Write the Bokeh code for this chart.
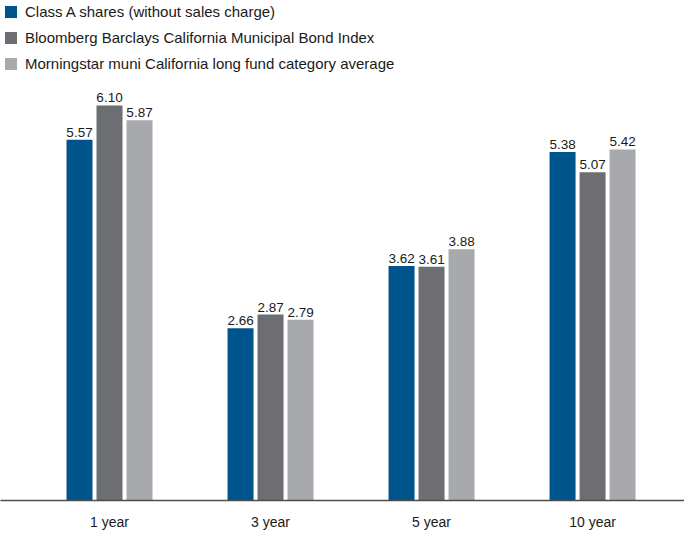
from bokeh.plotting import figure
from bokeh.models import ColumnDataSource, Range1d, Legend, LegendItem, FixedTicker
from bokeh.transform import dodge
from bokeh.core.properties import value
from bokeh.embed import file_html
from bokeh.resources import INLINE

periods = ["1 year", "3 year", "5 year", "10 year"]
class_a = [5.57, 2.66, 3.62, 5.38]
bbg_index = [6.10, 2.87, 3.61, 5.07]
category_avg = [5.87, 2.79, 3.88, 5.42]
series_names = [
    "Class A shares (without sales charge)",
    "Bloomberg Barclays California Municipal Bond Index",
    "Morningstar muni California long fund category average",
]
colors = ["#00548c", "#6d6e71", "#a7a9ac"]

FONT = "Liberation Sans"

pos = list(range(len(periods)))
src = ColumnDataSource(dict(
    pos=pos,
    a=class_a, b=bbg_index, c=category_avg,
    a_lbl=[f"{v:.2f}" for v in class_a],
    b_lbl=[f"{v:.2f}" for v in bbg_index],
    c_lbl=[f"{v:.2f}" for v in category_avg],
))

p = figure(
    x_range=Range1d(-0.677, 3.571),
    y_range=Range1d(0, 7.72),
    width=684, height=536,
    output_backend="svg", toolbar_location=None,
    min_border_left=0, min_border_right=0, min_border_top=0, min_border_bottom=36,
)

step = 30 / 161
bw = 26 / 161
renderers = []
for off, col, lbl, color in zip([-step, 0, step], ["a", "b", "c"], ["a_lbl", "b_lbl", "c_lbl"], colors):
    r = p.vbar(x=dodge("pos", off), top=col, width=bw, source=src,
               fill_color=color, line_color=None)
    renderers.append(r)
    p.text(x=dodge("pos", off), y=col, text=lbl, source=src,
           text_align="center", text_baseline="bottom", y_offset=-3,
           text_font=value(FONT), text_font_size="13.5px", text_color="#1a1a1a")

legend = Legend(items=[LegendItem(label=n, renderers=[r]) for n, r in zip(series_names, renderers)],
                location="top_left", orientation="vertical")
legend.margin = 3
legend.padding = 8
legend.spacing = 9
legend.glyph_width = 15
legend.glyph_height = 15
legend.label_height = 15
legend.label_standoff = 7
legend.label_text_font = FONT
legend.label_text_font_size = "15px"
legend.label_text_color = "#1a1a1a"
legend.background_fill_alpha = 0
legend.border_line_color = None
p.add_layout(legend)

p.yaxis.visible = False
p.xgrid.visible = False
p.ygrid.visible = False
p.outline_line_color = None
p.xaxis.ticker = FixedTicker(ticks=pos)
p.xaxis.major_label_overrides = {i: s for i, s in zip(pos, periods)}
p.xaxis.axis_line_color = "#4d4d4d"
p.xaxis.axis_line_width = 1.5
p.xaxis.major_tick_line_color = None
p.xaxis.major_tick_out = 0
p.xaxis.major_tick_in = 0
p.xaxis.minor_tick_line_color = None
p.xaxis.major_label_standoff = 13
p.xaxis.major_label_text_font = FONT
p.xaxis.major_label_text_font_size = "14px"
p.xaxis.major_label_text_color = "#1a1a1a"

open("out.html", "w").write(file_html(p, INLINE))
